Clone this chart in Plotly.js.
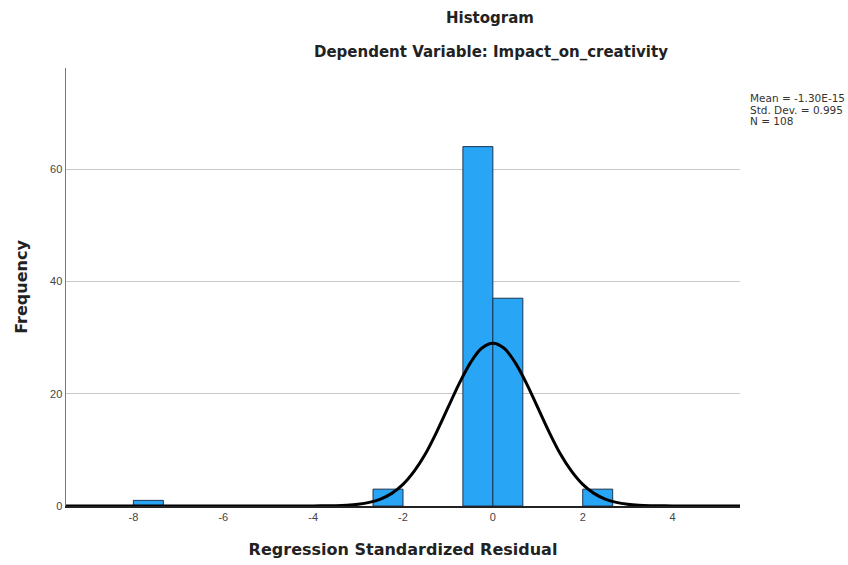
<!DOCTYPE html>
<html>
<head>
<meta charset="utf-8">
<script src="https://cdn.plot.ly/plotly-3.0.1.min.js"></script>
<style>html,body{margin:0;padding:0;background:#fff;}#chart{width:848px;height:565px;}</style>
</head>
<body>
<div id="chart"></div>
<script>
// Histogram bins
const binLeft  = [-8.0, -2.667, -0.667, 0.0, 2.0];
const binRight = [-7.333, -2.0, 0.0, 0.667, 2.667];
const counts   = [1, 3, 64, 37, 3];

// Normal curve
const curveX = [-9.5, -5, -4, -3.75, -3.5, -3.25, -3, -2.75, -2.5, -2.25, -2, -1.75, -1.5, -1.25, -1, -0.75, -0.5, -0.25, 0,
                0.25, 0.5, 0.75, 1, 1.25, 1.5, 1.75, 2, 2.25, 2.5, 2.75, 3, 3.25, 3.5, 3.75, 4, 5.5];
const curveY = [0, 0, 0.01, 0.03, 0.06, 0.14, 0.31, 0.64, 1.23, 2.25, 3.85, 6.2, 9.3, 13.2, 17.5, 21.8, 25.5, 28.1, 29,
                28.1, 25.5, 21.8, 17.5, 13.2, 9.3, 6.2, 3.85, 2.25, 1.23, 0.64, 0.31, 0.14, 0.06, 0.03, 0.01, 0];

const xTicks = [-8, -6, -4, -2, 0, 2, 4];
const yTicks = [0, 20, 40, 60];
const statsText = ["Mean = -1.30E-15", "Std. Dev. = 0.995", "N = 108"];

const centers = binLeft.map((l, i) => (l + binRight[i]) / 2);
const widths = binLeft.map((l, i) => binRight[i] - l);

const FONT = "Liberation Sans, Arial, sans-serif";
const BOLD = "DejaVu Sans, Verdana, sans-serif";

const traces = [
  {
    type: "bar",
    x: centers,
    y: counts,
    width: widths,
    marker: { color: "#29a5f5", line: { color: "#1c3552", width: 1 } },
    hoverinfo: "x+y"
  },
  {
    type: "scatter",
    mode: "lines",
    x: curveX,
    y: curveY,
    line: { color: "#000000", width: 3, shape: "spline", smoothing: 1 },
    hoverinfo: "skip"
  }
];

const PL = 66, PW = 674, PT = 68, PH = 438;
const py = (pix) => 1 - (pix - PT) / PH;
const px = (pix) => (pix - PL) / PW;

const statAnn = statsText.map((t, i) => ({
  text: t, xref: "paper", yref: "paper", x: px(748), y: py(98 + i * 11.5),
  xanchor: "left", yanchor: "middle", align: "left", showarrow: false,
  font: { size: 10.5, color: "#333", family: "DejaVu Sans, Arial, sans-serif" }
}));

const layout = {
  width: 848,
  height: 565,
  margin: { l: PL, r: 848 - PL - PW, t: PT, b: 565 - PT - PH },
  paper_bgcolor: "#ffffff",
  plot_bgcolor: "#ffffff",
  showlegend: false,
  font: { family: FONT, color: "#333" },
  xaxis: {
    range: [-9.5, 5.5],
    tickvals: xTicks,
    ticktext: xTicks.map(String),
    showgrid: false,
    zeroline: false,
    showline: true,
    linecolor: "#222",
    linewidth: 1.5,
    ticks: "",
    tickfont: { size: 11, color: "#444", family: FONT },
    title: { text: "Regression Standardized Residual", font: { size: 16, color: "#222", family: BOLD, weight: "bold" }, standoff: 22 }
  },
  yaxis: {
    range: [0, 78],
    tickvals: yTicks,
    ticktext: yTicks.map(String),
    showgrid: true,
    gridcolor: "#c8c8c8",
    gridwidth: 1,
    zeroline: false,
    showline: true,
    linecolor: "#777",
    linewidth: 1.5,
    ticks: "",
    tickfont: { size: 11, color: "#444", family: FONT },
    title: { text: "Frequency", font: { size: 16, color: "#222", family: BOLD, weight: "bold" }, standoff: 18 }
  },
  annotations: [
    { text: "<b>Histogram</b>", xref: "paper", yref: "paper", x: px(490), y: py(18),
      xanchor: "center", yanchor: "middle", showarrow: false, font: { size: 15, color: "#222", family: BOLD } },
    { text: "<b>Dependent Variable: Impact_on_creativity</b>", xref: "paper", yref: "paper", x: px(491), y: py(52),
      xanchor: "center", yanchor: "middle", showarrow: false, font: { size: 15, color: "#222", family: BOLD } }
  ].concat(statAnn)
};

Plotly.newPlot("chart", traces, layout, { displayModeBar: false, staticPlot: true });
</script>
</body>
</html>
